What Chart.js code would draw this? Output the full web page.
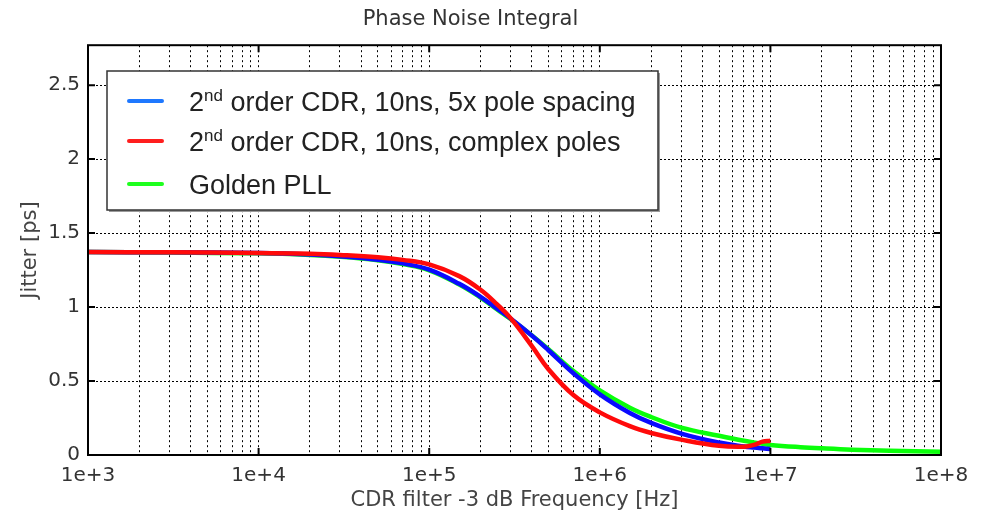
<!DOCTYPE html>
<html>
<head>
<meta charset="utf-8">
<script src="https://cdn.jsdelivr.net/npm/chart.js@4.4.1/dist/chart.umd.min.js"></script>
<style>
  body { margin: 0; background: #fff; }
  #wrap { width: 987px; height: 514px; }
</style>
</head>
<body>
<div id="wrap"><canvas id="grafico" width="987" height="514"></canvas></div>
<script>
// frecuencias de corte del filtro CDR [Hz]
var frecuencias = [1e3, 3e3, 1e4, 2e4, 3e4, 5e4, 7e4, 1e5, 1.5e5, 2e5, 2.5e5, 3e5, 4e5, 5e5, 7e5, 1e6, 1.5e6, 2e6, 3e6, 5e6, 7e6, 8e6, 9e6, 1e7, 1.5e7, 2e7, 3e7, 5e7, 1e8];

// jitter [ps]
var jitterPolos5x = [1.372, 1.370, 1.365, 1.355, 1.343, 1.320, 1.295, 1.253, 1.157, 1.069, 0.989, 0.923, 0.807, 0.708, 0.553, 0.410, 0.284, 0.217, 0.145, 0.084, 0.057, 0.050, 0.045, 0.041, null, null, null, null, null];
var jitterPolosComplejos = [1.372, 1.370, 1.366, 1.360, 1.352, 1.337, 1.319, 1.288, 1.209, 1.117, 1.018, 0.925, 0.736, 0.580, 0.405, 0.288, 0.195, 0.149, 0.104, 0.062, 0.056, 0.068, 0.090, 0.097, null, null, null, null, null];
var jitterGoldenPLL = [1.372, 1.369, 1.363, 1.352, 1.340, 1.316, 1.290, 1.248, 1.152, 1.064, 0.984, 0.919, 0.808, 0.715, 0.567, 0.437, 0.320, 0.257, 0.185, 0.130, 0.096, 0.085, 0.076, 0.068, 0.053, 0.045, 0.036, 0.029, 0.022];

var nombres = ["2^{nd} order CDR, 10ns, 5x pole spacing", "2^{nd} order CDR, 10ns, complex poles", "Golden PLL"];
var coloresLinea = ["#0a0aff", "#ff0a0a", "#0aff0a"];
var coloresLeyenda = ["#1e78ff", "#ff1e1e", "#1eff1e"];

var decadas = [3, 4, 5, 6, 7, 8];
var ticksY = [0, 0.5, 1, 1.5, 2, 2.5];

function puntos(serie) {
    var salida = [];
    for (var i = 0; i < frecuencias.length; i++) {
        if (serie[i] !== null) salida.push({ x: frecuencias[i], y: serie[i] });
    }
    return salida;
}

function esDecada(v) {
    var e = Math.round(Math.log10(v));
    return Math.abs(v - Math.pow(10, e)) < 1e-6 * v;
}

// caja, marcas y leyenda dibujadas a mano
var marcoPlugin = {
    id: "marco",
    afterDatasetsDraw: function (chart) {
        var ctx = chart.ctx, a = chart.chartArea;
        var sx = chart.scales.x, sy = chart.scales.y;
        ctx.save();
        ctx.strokeStyle = "#000";
        ctx.lineWidth = 2;
        ctx.strokeRect(a.left, a.top, a.right - a.left, a.bottom - a.top);
        decadas.forEach(function (e) {
            var x = sx.getPixelForValue(Math.pow(10, e));
            ctx.beginPath();
            ctx.moveTo(x, a.bottom); ctx.lineTo(x, a.bottom - 7);
            ctx.moveTo(x, a.top); ctx.lineTo(x, a.top + 7);
            ctx.stroke();
        });
        ticksY.forEach(function (v) {
            var y = sy.getPixelForValue(v);
            ctx.beginPath();
            ctx.moveTo(a.left, y); ctx.lineTo(a.left + 7, y);
            ctx.moveTo(a.right, y); ctx.lineTo(a.right - 7, y);
            ctx.stroke();
        });
        ctx.restore();
    },
    afterDraw: function (chart) {
        var ctx = chart.ctx;
        var bx = 107, by = 71, bw = 551, bh = 139;
        ctx.save();
        ctx.fillStyle = "#9a9a9a";
        ctx.fillRect(bx + 2, by + 2, bw, bh);
        ctx.fillStyle = "#fff";
        ctx.fillRect(bx, by, bw, bh);
        ctx.strokeStyle = "#333";
        ctx.lineWidth = 1.5;
        ctx.strokeRect(bx, by, bw, bh);
        var filas = [101, 141, 184];
        nombres.forEach(function (nombre, i) {
            var y = filas[i];
            ctx.strokeStyle = coloresLeyenda[i];
            ctx.lineWidth = 4;
            ctx.lineCap = "round";
            ctx.beginPath();
            ctx.moveTo(129, y); ctx.lineTo(162, y);
            ctx.stroke();
            ctx.fillStyle = "#222";
            ctx.textBaseline = "alphabetic";
            var x = 189;
            var m = nombre.match(/^(.*?)\^\{(.*?)\}(.*)$/);
            var grande = "27px 'Liberation Sans', Arial, sans-serif";
            ctx.font = grande;
            if (m) {
                ctx.fillText(m[1], x, y + 10);
                x += ctx.measureText(m[1]).width;
                ctx.font = "17px 'Liberation Sans', Arial, sans-serif";
                ctx.fillText(m[2], x, y);
                x += ctx.measureText(m[2]).width;
                ctx.font = grande;
                ctx.fillText(m[3], x, y + 10);
            } else {
                ctx.fillText(nombre, x, y + 10);
            }
        });
        ctx.restore();
    }
};

var fuente = "'DejaVu Sans', Verdana, sans-serif";

new Chart(document.getElementById("grafico"), {
    type: "line",
    data: {
        datasets: [
            { label: "2nd order CDR, 10ns, 5x pole spacing", data: puntos(jitterPolos5x), borderColor: coloresLinea[0], order: 1 },
            { label: "2nd order CDR, 10ns, complex poles", data: puntos(jitterPolosComplejos), borderColor: coloresLinea[1], order: 0 },
            { label: "Golden PLL", data: puntos(jitterGoldenPLL), borderColor: coloresLinea[2], order: 2 }
        ]
    },
    options: {
        responsive: false,
        animation: false,
        layout: { padding: { left: 0, right: 46, top: 0, bottom: 0 } },
        elements: {
            line: { borderWidth: 4.5, tension: 0.4, fill: false, capBezierPoints: true },
            point: { radius: 0 }
        },
        plugins: {
            legend: { display: false },
            tooltip: { enabled: false },
            title: {
                display: true,
                text: "Phase Noise Integral",
                color: "#333",
                font: { family: fuente, size: 21, weight: "normal" },
                padding: { top: 7, bottom: 13 }
            }
        },
        scales: {
            x: {
                type: "logarithmic",
                min: 1e3,
                max: 1e8,
                afterBuildTicks: function (scale) {
                    var t = [];
                    for (var e = 3; e < 8; e++) {
                        for (var k = 1; k < 10; k++) t.push({ value: k * Math.pow(10, e) });
                    }
                    t.push({ value: 1e8 });
                    scale.ticks = t;
                },
                afterFit: function (scale) { scale.height = 59; },
                ticks: {
                    autoSkip: false,
                    maxRotation: 0,
                    padding: 9,
                    color: "#333",
                    font: { family: fuente, size: 20 },
                    callback: function (v) {
                        if (esDecada(v)) return "1e+" + Math.round(Math.log10(v));
                        return "";
                    }
                },
                grid: { color: "#000", lineWidth: 1, drawTicks: false },
                border: { display: false, dash: [2, 3] },
                title: {
                    display: true,
                    text: "CDR filter -3 dB Frequency [Hz]",
                    color: "#444",
                    font: { family: fuente, size: 21 },
                    padding: { top: 0, bottom: 1 }
                }
            },
            y: {
                min: 0,
                max: 2.77,
                afterFit: function (scale) { scale.width = 88; },
                ticks: {
                    stepSize: 0.5,
                    includeBounds: false,
                    padding: 8,
                    color: "#333",
                    font: { family: fuente, size: 20 },
                    callback: function (v) { return String(Math.round(v * 10) / 10); }
                },
                grid: { color: "#000", lineWidth: 1, drawTicks: false },
                border: { display: false, dash: [2, 2] },
                title: {
                    display: true,
                    text: "Jitter [ps]",
                    color: "#444",
                    font: { family: fuente, size: 21 },
                    padding: { top: 18, bottom: 0 }
                }
            }
        }
    },
    plugins: [marcoPlugin]
});
</script>
</body>
</html>
